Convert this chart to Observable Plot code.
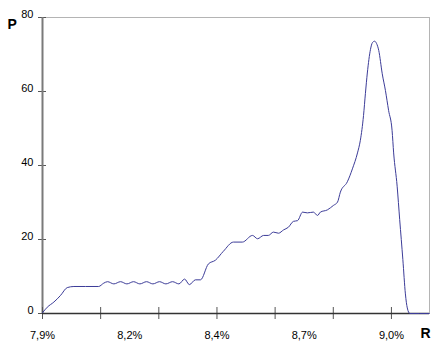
<!DOCTYPE html>
<html>
<head>
<meta charset="utf-8">
<script src="https://cdn.jsdelivr.net/npm/d3@7"></script>
<script src="https://cdn.jsdelivr.net/npm/@observablehq/plot@0.6"></script>
<style>
  html, body { margin: 0; padding: 0; background: #fff; }
  #chart { width: 444px; height: 353px; }
</style>
</head>
<body>
<div id="chart"></div>
<script>
// Rate R (%) values along the curve
const rValues = [7.900, 7.915, 7.936, 7.957, 7.978, 7.999, 8.036, 8.077, 8.093,
  8.105, 8.125, 8.146, 8.166, 8.187, 8.207, 8.228, 8.248, 8.269, 8.289, 8.310, 8.330,
  8.348, 8.363, 8.382, 8.398, 8.423, 8.445, 8.470, 8.502, 8.530, 8.562, 8.578, 8.597,
  8.612, 8.628, 8.644, 8.660, 8.675, 8.691, 8.704, 8.720, 8.735, 8.754, 8.767, 8.776,
  8.798, 8.817, 8.830, 8.839, 8.861, 8.877, 8.893, 8.902, 8.912, 8.918, 8.924, 8.934,
  8.940, 8.947, 8.953, 8.960, 8.971, 8.981, 8.991, 9.002, 9.007, 9.018, 9.026, 9.036,
  9.044, 9.050, 9.058, 9.119];
// Probability P values
const pValues = [0.2, 1.7, 3.1, 4.9, 7.0, 7.3, 7.3, 7.3, 8.2,
  8.6, 8.0, 8.6, 8.0, 8.6, 8.0, 8.6, 8.0, 8.6, 8.0, 8.6, 8.0,
  9.3, 7.8, 9.1, 9.1, 13.4, 14.4, 16.8, 19.3, 19.3, 21.1, 20.2, 21.1,
  21.1, 22.0, 21.7, 22.6, 23.3, 24.9, 25.1, 27.4, 27.2, 27.4, 26.5, 27.4,
  28.0, 29.2, 30.1, 32.8, 35.6, 39.1, 43.4, 46.8, 53.5, 59.5, 65.0, 71.4,
  73.2, 73.6, 73.0, 71.1, 64.8, 60.3, 54.9, 49.5, 43.4, 34.4, 25.4, 14.6,
  5.3, 1.5, 0, 0];

// Axis ticks and labels
const xTickValues = [7.9, 8.0833, 8.2667, 8.45, 8.6333, 8.8167, 9.0];
const xLabelValues = [7.9, 8.175, 8.45, 8.725, 9.0];
const xLabels = ["7,9%", "8,2%", "8,4%", "8,7%", "9,0%"];
const yTicks = [0, 20, 40, 60, 80];
const xDomain = [7.9, 9.12];
const yDomain = [0, 80];

const data = rValues.map((r, i) => ({r, p: pValues[i]}));

const chart = Plot.plot({
  width: 444,
  height: 353,
  marginLeft: 42,
  marginRight: 15,
  marginTop: 17,
  marginBottom: 40,
  x: {domain: xDomain, axis: null},
  y: {domain: yDomain, axis: null},
  style: {fontFamily: "'Liberation Sans', Arial, sans-serif", fontSize: "11px", color: "#000", background: "#fff"},
  marks: [
    Plot.frame({stroke: "#b4b4b4"}),
    Plot.axisY(yTicks, {tickSize: 8, dx: 4, tickFormat: () => "", stroke: "#555", label: null}),
    Plot.axisY(yTicks, {tickSize: 0, tickPadding: 9, dy: -3.5, fill: "#000", label: null}),
    Plot.ruleX([xDomain[0]], {stroke: "#7a7a7a", strokeWidth: 2}),
    Plot.axisX(xTickValues, {tickSize: 12, dy: -6, tickFormat: () => "", stroke: "#555", label: null}),
    Plot.axisX(xLabelValues, {tickSize: 0, tickPadding: 18, fill: "#000", label: null,
      tickFormat: d => xLabels[xLabelValues.indexOf(d)]}),
    Plot.ruleY([yDomain[0]], {stroke: "#333", strokeWidth: 1.5}),
    Plot.line(data, {x: "r", y: "p", stroke: "#3c3c98", strokeWidth: 1, curve: "monotone-x"}),
    Plot.text(["P"], {frameAnchor: "top-left", dx: -35, dy: 11, textAnchor: "start", lineAnchor: "bottom",
      fontWeight: "bold", fontSize: 14, fill: "#000"}),
    Plot.text(["R"], {frameAnchor: "bottom-right", dx: -9, dy: 24, textAnchor: "start", lineAnchor: "bottom",
      fontWeight: "bold", fontSize: 14, fill: "#000"})
  ]
});
document.getElementById("chart").appendChild(chart);
</script>
</body>
</html>
